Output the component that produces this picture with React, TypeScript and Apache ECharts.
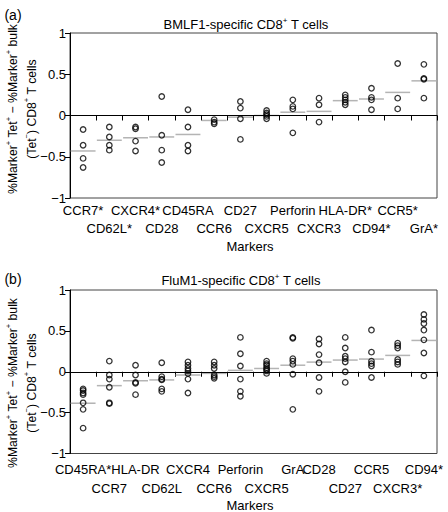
import React, { useEffect, useRef } from 'react';
import * as echarts from 'echarts';

// ---- Panel (a): BMLF1-specific CD8+ T cells ----
const markersA = ['CCR7*', 'CD62L*', 'CXCR4*', 'CD28', 'CD45RA', 'CCR6', 'CD27', 'CXCR5', 'Perforin', 'CXCR3', 'HLA-DR*', 'CD94*', 'CCR5*', 'GrA*'];
const valuesA: number[][] = [
  [-0.17, -0.36, -0.52, -0.63],
  [-0.14, -0.26, -0.36, -0.42],
  [-0.14, -0.16, -0.31, -0.43],
  [0.23, -0.24, -0.42, -0.57],
  [0.07, -0.14, -0.36, -0.43],
  [-0.05, -0.08, -0.10],
  [0.17, 0.09, -0.04, -0.29],
  [0.06, 0.03, 0.01, -0.01, -0.04],
  [0.19, 0.11, 0.08, -0.21],
  [0.21, 0.13, -0.08],
  [0.25, 0.22, 0.19, 0.16, 0.13],
  [0.33, 0.22, 0.19, 0.07],
  [0.63, 0.21, 0.08],
  [0.62, 0.45, 0.44, 0.21],
];
const meansA = [-0.43, -0.30, -0.27, -0.26, -0.23, -0.06, -0.02, 0.0, 0.04, 0.05, 0.18, 0.2, 0.28, 0.42];

// ---- Panel (b): FluM1-specific CD8+ T cells ----
const markersB = ['CD45RA*', 'CCR7', 'HLA-DR', 'CD62L', 'CXCR4', 'CCR6', 'Perforin', 'CXCR5', 'GrA', 'CD28', 'CD27', 'CCR5', 'CXCR3*', 'CD94*'];
const valuesB: number[][] = [
  [-0.21, -0.23, -0.26, -0.28, -0.38, -0.46, -0.69],
  [0.13, -0.04, -0.09, -0.19, -0.38, -0.39],
  [0.08, -0.04, -0.13, -0.14, -0.28],
  [0.11, -0.06, -0.09, -0.10, -0.21, -0.24],
  [0.12, 0.08, 0.04, 0.01, -0.02, -0.09, -0.26],
  [0.12, 0.08, 0.04, -0.04, -0.06, -0.08],
  [0.42, 0.22, 0.07, -0.09, -0.24, -0.30],
  [0.13, 0.10, 0.08, 0.05, 0.03, 0.01, -0.02],
  [0.42, 0.41, 0.16, 0.13, 0.09, -0.03, -0.46],
  [0.40, 0.34, 0.21, 0.11, -0.07, -0.24],
  [0.42, 0.29, 0.19, 0.16, 0.12, 0.0, -0.13],
  [0.51, 0.24, 0.13, 0.10, 0.07, -0.07],
  [0.35, 0.32, 0.29, 0.15, 0.12, 0.09],
  [0.70, 0.64, 0.59, 0.51, 0.39, 0.23, -0.05],
];
const meansB = [-0.385, -0.17, -0.11, -0.10, -0.04, -0.02, 0.017, 0.04, 0.08, 0.118, 0.143, 0.155, 0.2, 0.383];

// rich-text strings ({s|…} = superscript)
const titleA = '{n|BMLF1-specific CD8}{s|+}{n| T cells}';
const titleB = '{n|FluM1-specific CD8}{s|+}{n| T cells}';
const yTitle = '{n|%Marker}{s|+}{n| Tet}{s|+}{n| \u2212 %Marker}{s|+}{n| bulk}\n{n|(Tet}{s|\u2212}{n|) CD8}{s|+}{n| T cells}';
const xTitle = 'Markers';

// label row layout (0 = first row, 1 = second row)
const rowsA = [0, 1, 0, 1, 0, 1, 0, 1, 0, 1, 0, 1, 0, 1];
const rowsB = [0, 1, 0, 1, 0, 1, 0, 1, 0, 0, 1, 0, 1, 0];

const FONT = '"Liberation Sans", Arial, Helvetica, sans-serif';

function flatten(vals: number[][]) {
  const out: number[][] = [];
  vals.forEach((arr, i) => arr.forEach((v) => out.push([i, v])));
  return out;
}

function meanRender(params: any, api: any) {
  const c = api.coord([api.value(0), api.value(1)]);
  const w = api.size([1, 0])[0] * 0.95;
  return {
    type: 'line',
    shape: { x1: c[0] - w / 2, y1: c[1], x2: c[0] + w / 2, y2: c[1] },
    style: { stroke: '#b4b4b4', lineWidth: 1.5 },
  };
}

function textEl(text: string, x: number, y: number, size: number, extra: any = {}) {
  const lh = extra.lineHeight || Math.round(size * 1.25);
  const sup = extra.sup || 8;
  return {
    type: 'text',
    x,
    y,
    rotation: extra.rotation || 0,
    style: {
      text,
      fill: '#000',
      font: `${size}px ${FONT}`,
      textAlign: 'center',
      align: 'center',
      textVerticalAlign: 'middle',
      verticalAlign: 'middle',
      lineHeight: lh,
      rich: {
        n: { fontSize: size, fontFamily: FONT, fill: '#000', lineHeight: lh },
        s: { fontSize: sup, fontFamily: FONT, fill: '#000', lineHeight: lh - 4, verticalAlign: 'top' },
      },
    },
  };
}

export default function App() {
  const ref = useRef<HTMLDivElement>(null);
  useEffect(() => {
    if (!ref.current) return;
    const chart = echarts.init(ref.current, null, { renderer: 'svg' });

    const yAxisBase = (gridIndex: number) => ({
      type: 'value',
      gridIndex,
      min: -1,
      max: 1,
      interval: 0.5,
      axisLine: { show: true, lineStyle: { color: '#000', width: 1 } },
      axisTick: { show: true, length: 5, lineStyle: { color: '#000' } },
      splitLine: { show: false },
      axisLabel: {
        color: '#000',
        fontSize: 13,
        fontFamily: FONT,
        margin: 4,
        formatter: (v: number) => String(v).replace('-', '\u2212'),
      },
    });

    const xAxisBase = (gridIndex: number, data: string[], rows: number[], margin: number, lh: number) => ({
      type: 'category',
      gridIndex,
      data,
      boundaryGap: true,
      axisLine: { show: true, lineStyle: { color: '#000', width: 1 } },
      axisTick: { show: true, interval: 0, length: 5, lineStyle: { color: '#000' } },
      splitLine: { show: false },
      axisLabel: {
        interval: 0,
        color: '#000',
        fontSize: 13,
        fontFamily: FONT,
        margin,
        lineHeight: lh,
        formatter: (v: string, i: number) => (rows[i] ? '\n' + v : v),
      },
    });

    const scatter = (idx: number, vals: number[][]) => ({
      type: 'scatter',
      xAxisIndex: idx,
      yAxisIndex: idx,
      data: flatten(vals),
      symbol: 'circle',
      symbolSize: 5.5,
      z: 3,
      itemStyle: { color: 'rgba(0,0,0,0)', borderColor: '#000', borderWidth: 1.3 },
      markLine: {
        silent: true,
        symbol: 'none',
        label: { show: false },
        lineStyle: { color: '#000', width: 1, type: 'solid' },
        data: [{ yAxis: 0 }],
      },
    });

    const means = (idx: number, m: number[]) => ({
      type: 'custom',
      xAxisIndex: idx,
      yAxisIndex: idx,
      z: 2,
      renderItem: meanRender,
      encode: { x: 0, y: 1 },
      data: m.map((v, i) => [i, v]),
    });

    chart.setOption({
      animation: false,
      backgroundColor: '#fff',
      textStyle: { fontFamily: FONT },
      grid: [
        { left: 70, top: 33, width: 367, height: 165, show: true, borderColor: '#444', borderWidth: 1, containLabel: false },
        { left: 70, top: 290, width: 367, height: 163.5, show: true, borderColor: '#444', borderWidth: 1, containLabel: false },
      ],
      xAxis: [xAxisBase(0, markersA, rowsA, 3, 18.5), xAxisBase(1, markersB, rowsB, 6, 19.5)],
      yAxis: [yAxisBase(0), yAxisBase(1)],
      series: [means(0, meansA), scatter(0, valuesA), means(1, meansB), scatter(1, valuesB)],
      graphic: [
        textEl('(a)', 13, 15, 14),
        textEl('(b)', 13, 279, 14),
        textEl(titleA, 246, 24, 13),
        textEl(titleB, 241, 280, 13),
        textEl(yTitle, 22.5, 109, 12.2, { rotation: Math.PI / 2, lineHeight: 18.5, sup: 7.5 }),
        textEl(yTitle, 22.5, 383, 12.2, { rotation: Math.PI / 2, lineHeight: 18.5, sup: 7.5 }),
        textEl(xTitle, 250, 246, 13),
        textEl(xTitle, 250, 505, 13),
      ],
    });
    return () => chart.dispose();
  }, []);
  return <div ref={ref} style={{ position: 'absolute', left: 0, top: 0, width: 448, height: 512 }} />;
}
